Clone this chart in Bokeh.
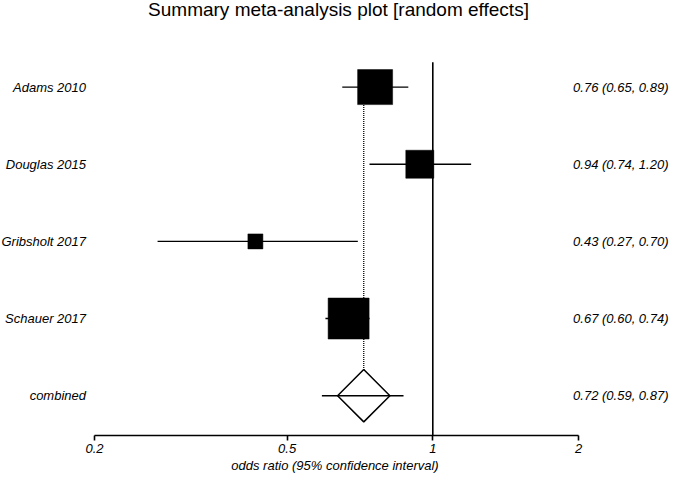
import numpy as np
from bokeh.plotting import figure
from bokeh.models import Range1d, FixedTicker, ColumnDataSource, LabelSet, Label
from bokeh.core.properties import value
from bokeh.embed import file_html
from bokeh.resources import INLINE

# ---------------- data ----------------
title_text = "Summary meta-analysis plot [random effects]"
studies = ["Adams 2010", "Douglas 2015", "Gribsholt 2017", "Schauer 2017"]
odds_ratio = [0.76, 0.94, 0.43, 0.67]
ci_lower = [0.65, 0.74, 0.27, 0.60]
ci_upper = [0.89, 1.20, 0.70, 0.74]
box_weight = [35, 28, 15, 41]          # relative study weight (box side)
summary_label = "combined"
summary_or = 0.72
summary_lower = 0.59
summary_upper = 0.87
null_value = 1
x_ticks = [0.2, 0.5, 1, 2]
x_tick_labels = ["0.2", "0.5", "1", "2"]
x_label = "odds ratio (95% confidence interval)"

# ---------------- layout ----------------
W, H = 669, 475
AXIS_H = 38
FRAME_H = H - AXIS_H
AX_LEFT_PX, AX_RIGHT_PX = 94, 578     # canvas px of first/last tick
ROW0_PX, ROW_STEP = 87, 77.5
NULL_TOP_PX = 62
FONT = "Liberation Sans"

dec_per_px = (np.log10(x_ticks[-1]) - np.log10(x_ticks[0])) / (AX_RIGHT_PX - AX_LEFT_PX)
x_start = 10 ** (np.log10(x_ticks[0]) - AX_LEFT_PX * dec_per_px)
x_end = 10 ** (np.log10(x_ticks[0]) + (W - AX_LEFT_PX) * dec_per_px)
y_bottom = (FRAME_H - ROW0_PX) / ROW_STEP
y_top = (0 - ROW0_PX) / ROW_STEP
null_top = (NULL_TOP_PX - ROW0_PX) / ROW_STEP

n = len(studies)
rows = list(range(n))
sum_row = n

p = figure(width=W, height=H, x_axis_type="log", y_axis_location=None,
           x_range=Range1d(x_start, x_end), y_range=Range1d(y_bottom, y_top),
           toolbar_location=None, output_backend="svg",
           min_border_left=0, min_border_right=0, min_border_top=0,
           min_border_bottom=AXIS_H)
p.outline_line_color = None
p.xgrid.visible = False
p.ygrid.visible = False
p.background_fill_color = "white"
p.border_fill_color = "white"

ax = p.xaxis[0]
ax.ticker = FixedTicker(ticks=x_ticks)
ax.bounds = (x_ticks[0], x_ticks[-1])
ax.major_label_overrides = {t: s for t, s in zip(x_ticks, x_tick_labels)}
ax.minor_tick_line_color = None
ax.major_tick_in = 0
ax.major_tick_out = 5
ax.axis_line_width = 1.6
ax.major_tick_line_width = 1.6
ax.axis_line_color = "black"
ax.major_tick_line_color = "black"
ax.major_label_text_font = FONT
ax.major_label_text_font_style = "italic"
ax.major_label_text_font_size = "13px"
ax.major_label_text_color = "black"
ax.major_label_standoff = 3
ax.axis_label = x_label
ax.axis_label_text_font = FONT
ax.axis_label_text_font_style = "italic"
ax.axis_label_text_font_size = "13px"
ax.axis_label_text_color = "black"
ax.axis_label_standoff = 2

# null line at OR = 1
p.segment(x0=[null_value], y0=[null_top], x1=[null_value], y1=[y_bottom],
          line_color="black", line_width=1.6)

# dotted line at summary estimate
p.segment(x0=[summary_or], y0=[rows[0]], x1=[summary_or], y1=[sum_row],
          line_color="black", line_width=1.3, line_dash="1 1")

src = ColumnDataSource(dict(row=rows, est=odds_ratio, lo=ci_lower, hi=ci_upper,
                            w=box_weight))
p.segment(x0="lo", y0="row", x1="hi", y1="row", source=src,
          line_color="black", line_width=1.4)
p.scatter(x="est", y="row", size="w", marker="square", source=src,
          fill_color="black", line_color="black", line_width=0.5)

# summary diamond
p.scatter(x=[summary_or], y=[sum_row], marker="square", angle=np.pi / 4, size=37,
          fill_color="white", line_color="black", line_width=1.5)
p.segment(x0=[summary_lower], y0=[sum_row], x1=[summary_upper], y1=[sum_row],
          line_color="black", line_width=1.4)

# texts
all_names = studies + [summary_label]
all_est = odds_ratio + [summary_or]
all_lo = ci_lower + [summary_lower]
all_hi = ci_upper + [summary_upper]
txt = [f"{e:.2f} ({l:.2f}, {h:.2f})" for e, l, h in zip(all_est, all_lo, all_hi)]
lab_src = ColumnDataSource(dict(row=rows + [sum_row], name=all_names, val=txt))

p.add_layout(LabelSet(x=85.5, y="row", text="name", x_units="screen", source=lab_src,
                      text_align="right", text_baseline="middle",
                      text_font=value(FONT), text_font_style="italic",
                      text_font_size="13px", text_color="black"))
p.add_layout(LabelSet(x=668, y="row", text="val", x_units="screen", source=lab_src,
                      text_align="right", text_baseline="middle",
                      text_font=value(FONT), text_font_style="italic",
                      text_font_size="13px", text_color="black"))

p.add_layout(Label(x=338, y=FRAME_H, x_units="screen", y_units="screen",
                   text=title_text, text_align="center", text_baseline="top",
                   text_font=FONT, text_font_size="19px", text_color="black"))

open("out.html", "w").write(file_html(p, INLINE))
